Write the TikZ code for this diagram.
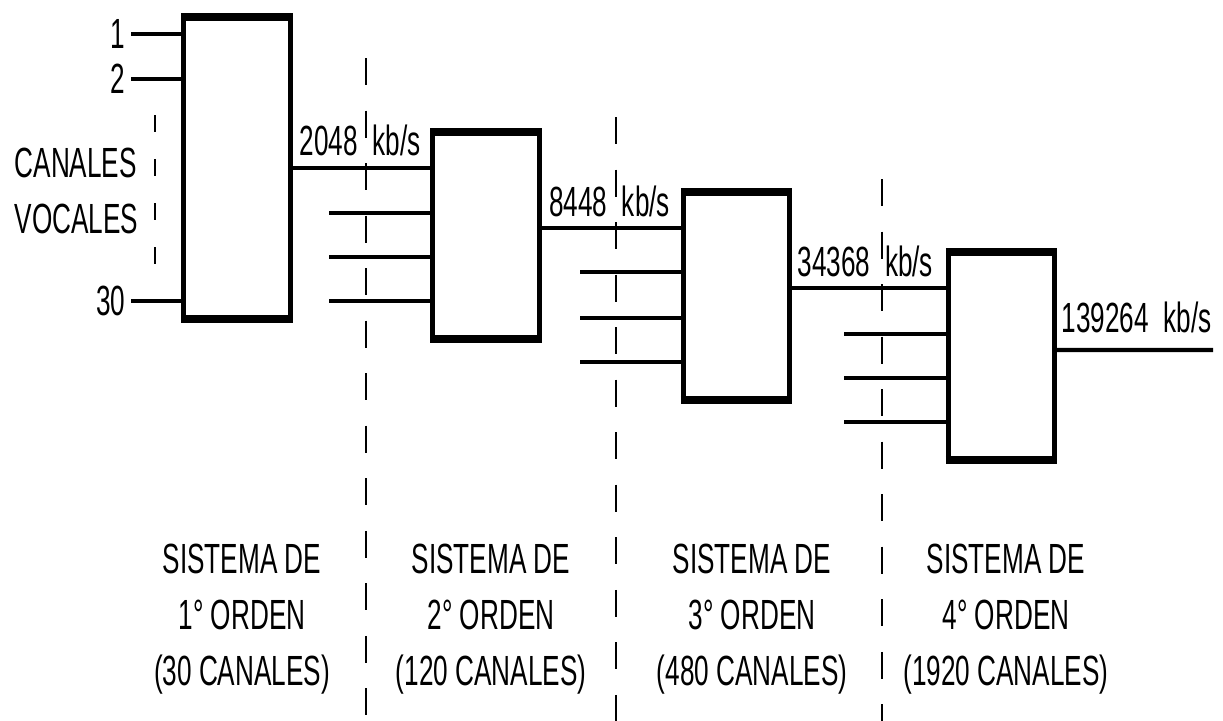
\documentclass[tikz,border=0pt]{standalone}
\usepackage{fontspec}
\setmainfont{Liberation Sans}[FakeStretch=0.62]
\usetikzlibrary{positioning}

\begin{document}
\begin{tikzpicture}[x=0.01cm, y=-0.01cm, every node/.style={font=\fontsize{12}{16}\selectfont}]
        \tikzstyle{mux} = [draw, line width=1.3pt, inner sep=0pt, minimum width=1.065cm, minimum height=2.035cm]
        \tikzstyle{linea} = [line width=1.15pt]
        \tikzstyle{corte} = [line width=0.85pt, dash pattern=on 0.27cm off 0.255cm]
        \tikzstyle{rot} = [inner sep=0pt]
        \tikzstyle{pie} = [inner sep=0pt, align=center, anchor=north]
        \useasboundingbox (0,0) rectangle (1223,721);
        % multiplexores
        \node[mux, minimum height=2.975cm] (m1) at (237,168) {};
        \node[mux] (m2) at (486,235.5) {};
        \node[mux] (m3) at (736.5,296) {};
        \node[mux] (m4) at (1001.5,356) {};
        \foreach \m in {m1,m2,m3,m4}
          \draw[line width=2.1pt] (\m.north west) -- (\m.north east) (\m.south west) -- (\m.south east);
        % canales vocales
        \coordinate (e1) at (131,34);
        \coordinate (e2) at (131,79);
        \coordinate (e30) at (131,301);
        \foreach \e/\t in {e1/1, e2/2, e30/30} {
          \draw[linea] (\e) -- (\e -| m1.west);
          \node[rot, left=0.05cm of \e] {\t};
        }
        \node[rot, anchor=north west, align=left] (cv) at (14,147) {CANALES\\VOCALES};
        \coordinate (v1) at (155,115);
        \coordinate (v2) at (155,267);
        \draw[line width=0.85pt, dash pattern=on 0.17cm off 0.27cm] (v1) -- (v2);
        % entradas
        \foreach \y in {213,257,301} {
          \coordinate (a\y) at (329,\y);
          \draw[linea] (a\y) -- (a\y -| m2.west);
        }
        \foreach \y in {272,318,362} {
          \coordinate (b\y) at (580,\y);
          \draw[linea] (b\y) -- (b\y -| m3.west);
        }
        \foreach \y in {334,378,422} {
          \coordinate (c\y) at (844,\y);
          \draw[linea] (c\y) -- (c\y -| m4.west);
        }
        % salidas
        \coordinate (s1) at (m1.east);
        \coordinate (s2) at ([yshift=0.075cm]m2.east);
        \coordinate (s3) at ([yshift=0.08cm]m3.east);
        \coordinate (s4) at ([yshift=0.06cm]m4.east);
        \coordinate (fin) at (1213,350);
        \draw[linea] (s1) -- (s1 -| m2.west);
        \draw[linea] (s2) -- (s2 -| m3.west);
        \draw[linea] (s3) -- (s3 -| m4.west);
        \draw[linea] (s4) -- (fin);
        \node[rot, above right=0.11cm and 0.065cm of s1] (r1) {2048~~kb/s};
        \node[rot, above right=0.10cm and 0.07cm of s2] (r2) {8448~~kb/s};
        \node[rot, above right=0.10cm and 0.05cm of s3] (r3) {34368~~kb/s};
        \node[rot, above right=0.16cm and 0.04cm of s4] (r4) {139264~~kb/s};
        % separaciones
        \coordinate (d1) at (366,58);
        \coordinate (d2) at (616,117);
        \coordinate (d3) at (882,179);
        \foreach \d in {d1,d2,d3}
          \draw[corte] (\d) -- (\d |- 0,721);
        % ordenes
        \node[pie] (o1) at (242,543) {SISTEMA DE\\1° ORDEN\\(30 CANALES)};
        \node[pie] (o2) at (491,543) {SISTEMA DE\\2° ORDEN\\(120 CANALES)};
        \node[pie] (o3) at (752,543) {SISTEMA DE\\3° ORDEN\\(480 CANALES)};
        \node[pie] (o4) at (1006,543) {SISTEMA DE\\4° ORDEN\\(1920 CANALES)};
      \end{tikzpicture}
\end{document}
